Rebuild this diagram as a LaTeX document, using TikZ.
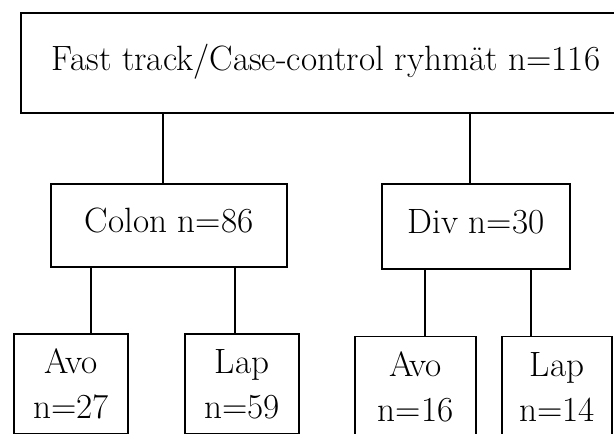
\documentclass[tikz,border=0pt]{standalone}
\usetikzlibrary{positioning}

\begin{document}
\begin{tikzpicture}[
	x=0.025cm, y=-0.025cm,
	font=\fontsize{25}{32}\selectfont,
	box/.style={
		draw,
		line width=1.4pt,
		align=center,
		inner sep=0pt,
	},
	groupbox/.style={
		box,
		text height=1em,
		text depth=0pt,
	},
	leaf/.style={
		box,
		minimum height=25mm,
	},
	link/.style={line width=1.3pt},
]
\clip (0,0) rectangle (614,434);

% Koko aineisto
\node[groupbox, minimum width=152.5mm, minimum height=24.9mm] (all) at (326,63) {Fast track/Case-control ryhmät n=116};

% Leikkaustyypit
\node[groupbox, minimum width=59.1mm, minimum height=20.7mm] (colon) at (169.2,225.4) {Colon n=86};
\node[groupbox, minimum width=47.1mm, minimum height=21.3mm] (div) at (475.9,226.7) {Div n=30};

% Avo- ja laparoskooppiset ryhmät
\node[leaf, minimum width=28.6mm] (colonavo) at (71.2,384) {Avo\\n=27};
\node[leaf, minimum width=28.5mm] (colonlap) at (242,384) {Lap\\n=59};
\node[leaf, minimum width=30.2mm] (divavo) at (415.5,386.5) {Avo\\n=16};
\node[leaf, minimum width=27.5mm] (divlap) at (557,386.5) {Lap\\n=14};

% Yhdysviivat
\draw[link] ([xshift=-1.6mm]colon.north) -- ([xshift=-1.6mm]colon.north |- all.south);
\draw[link] ([xshift=-1.55mm]div.north) -- ([xshift=-1.55mm]div.north |- all.south);
\draw[link] ([xshift=4.9mm]colonavo.north) -- ([xshift=4.9mm]colonavo.north |- colon.south);
\draw[link] ([xshift=-1.75mm]colonlap.north) -- ([xshift=-1.75mm]colonlap.north |- colon.south);
\draw[link] ([xshift=2.4mm]divavo.north) -- ([xshift=2.4mm]divavo.north |- div.south);
\draw[link] ([xshift=-6.5mm]divlap.north) -- ([xshift=-6.5mm]divlap.north |- div.south);

\end{tikzpicture}
\end{document}
